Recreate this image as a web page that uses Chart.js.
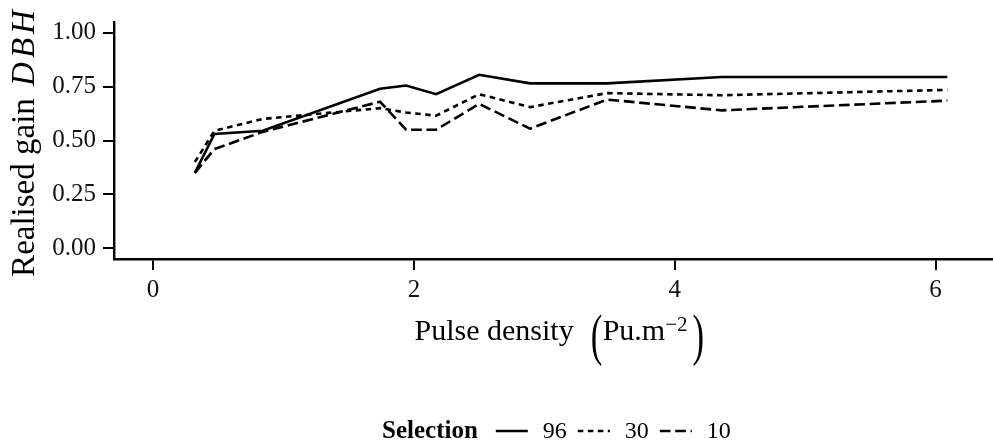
<!DOCTYPE html>
<html>
<head>
<meta charset="utf-8">
<script src="https://cdn.jsdelivr.net/npm/chart.js@4.4.1/dist/chart.umd.min.js"></script>
<style>
    html, body { margin: 0; padding: 0; background: #fff; }
    #wrap { width: 993px; height: 446px; }
</style>
</head>
<body>
<div id="wrap"><canvas id="gainChart" width="993" height="446"></canvas></div>
<script>
// Values
const pulseDensity = [0.32, 0.47, 0.84, 1.74, 1.94, 2.17, 2.5, 2.89, 3.48, 4.36, 6.09];
const gain96 = [0.35, 0.53, 0.545, 0.74, 0.755, 0.715, 0.805, 0.765, 0.765, 0.795, 0.795];
const gain30 = [0.40, 0.545, 0.60, 0.65, 0.63, 0.615, 0.715, 0.655, 0.72, 0.71, 0.735];
const gain10 = [0.35, 0.46, 0.54, 0.68, 0.55, 0.55, 0.67, 0.555, 0.69, 0.64, 0.685];

const selectionLabels = ['96', '30', '10'];
const xTicks = [0, 2, 4, 6];
const yTicks = [0, 0.25, 0.5, 0.75, 1];

const SERIF = '"Liberation Serif", "Times New Roman", serif';
const dashes = [[], [5.5, 4.5], [10.7, 4.7]];

function toPoints(values) {
    return values.map((v, i) => ({ x: pulseDensity[i], y: v }));
}

function makeDataset(label, values, dash) {
    return {
        label: label,
        data: toPoints(values),
        borderColor: '#000',
        borderWidth: 2.6,
        borderDash: dash,
        borderCapStyle: 'butt',
        pointRadius: 0,
        tension: 0,
        fill: false
    };
}

// axis titles and the bottom legend are drawn by hand
const annotations = {
    id: 'annotations',
    afterDraw(chart) {
        const ctx = chart.ctx;
        const area = chart.chartArea;
        ctx.save();
        ctx.fillStyle = '#000';
        ctx.textBaseline = 'alphabetic';

        // x title: Pulse density (Pu.m^-2)
        ctx.font = '30px ' + SERIF;
        const wMain = ctx.measureText('Pulse density').width;
        const wUnit = ctx.measureText('Pu.m').width;
        ctx.font = '21px ' + SERIF;
        const wSup = ctx.measureText('\u22122').width;
        const total = wMain + 17 + 12 + wUnit + wSup + 5 + 8;
        let x = (area.left + area.right) / 2 + 4 - total / 2;
        const base = 340;
        ctx.font = '30px ' + SERIF;
        ctx.fillText('Pulse density', x, base);
        x += wMain + 17;
        ctx.save();
        ctx.translate(x, base + 14);
        ctx.scale(0.62, 1);
        ctx.font = '56px ' + SERIF;
        ctx.fillText('(', 0, 0);
        ctx.restore();
        x += 12;
        ctx.font = '30px ' + SERIF;
        ctx.fillText('Pu.m', x, base);
        x += wUnit;
        ctx.font = '21px ' + SERIF;
        ctx.fillText('\u22122', x, base - 9);
        x += wSup + 5;
        ctx.save();
        ctx.translate(x, base + 14);
        ctx.scale(0.62, 1);
        ctx.font = '56px ' + SERIF;
        ctx.fillText(')', 0, 0);
        ctx.restore();

        // y title: Realised gain DBH
        ctx.save();
        ctx.translate(34, (area.top + area.bottom) / 2 + 3);
        ctx.rotate(-Math.PI / 2);
        ctx.font = '33px ' + SERIF;
        const plain = 'Realised gain ';
        const wPlain = ctx.measureText(plain).width;
        ctx.font = 'italic 33px ' + SERIF;
        const letters = ['D', 'B', 'H'];
        const gap = 4;
        const wItal = letters.reduce((s, l) => s + ctx.measureText(l).width + gap, 0);
        let ty = -(wPlain + wItal) / 2;
        ctx.font = '33px ' + SERIF;
        ctx.fillText(plain, ty, 0);
        ty += wPlain + 4;
        ctx.font = 'italic 33px ' + SERIF;
        letters.forEach(l => {
            ctx.fillText(l, ty, 0);
            ty += ctx.measureText(l).width + gap;
        });
        ctx.restore();

        // legend
        const ly = 431;
        let lx = 382;
        ctx.font = 'bold 25px ' + SERIF;
        ctx.fillText('Selection', lx, 438);
        lx += ctx.measureText('Selection').width + 18;
        ctx.font = '24px ' + SERIF;
        chart.data.datasets.forEach(ds => {
            ctx.beginPath();
            ctx.setLineDash(ds.borderDash);
            ctx.lineWidth = ds.borderWidth;
            ctx.strokeStyle = '#000';
            ctx.moveTo(lx, ly);
            ctx.lineTo(lx + 32, ly);
            ctx.stroke();
            ctx.setLineDash([]);
            lx += 32 + 15;
            ctx.fillText(ds.label, lx, 438);
            lx += ctx.measureText(ds.label).width + 11;
        });
        ctx.restore();
    }
};

function createGainChart(canvasId) {
    const ctx = document.getElementById(canvasId).getContext('2d');
    return new Chart(ctx, {
        type: 'line',
        data: {
            datasets: [
                makeDataset(selectionLabels[0], gain96, dashes[0]),
                makeDataset(selectionLabels[1], gain30, dashes[1]),
                makeDataset(selectionLabels[2], gain10, dashes[2])
            ]
        },
        options: {
            responsive: false,
            animation: false,
            layout: { padding: { top: 18, left: 0, right: 0, bottom: 0 } },
            plugins: {
                legend: { display: false },
                tooltip: { enabled: false }
            },
            scales: {
                x: {
                    type: 'linear',
                    min: -0.3,
                    max: 6.44,
                    afterBuildTicks: s => { s.ticks = xTicks.map(v => ({ value: v })); },
                    afterFit: s => { s.height = 187; },
                    grid: { drawOnChartArea: false, drawTicks: true, tickLength: 11, color: '#000', lineWidth: 2 },
                    border: { display: true, color: '#000', width: 2.4 },
                    ticks: {
                        color: '#111',
                        padding: 5,
                        maxRotation: 0,
                        font: { family: SERIF, size: 25 },
                        callback: v => String(v)
                    }
                },
                y: {
                    min: -0.05,
                    max: 1.05,
                    afterBuildTicks: s => { s.ticks = yTicks.map(v => ({ value: v })); },
                    afterFit: s => { s.width = 114; },
                    grid: { drawOnChartArea: false, drawTicks: true, tickLength: 11, color: '#000', lineWidth: 2 },
                    border: { display: true, color: '#000', width: 2.4 },
                    ticks: {
                        color: '#111',
                        padding: 7,
                        font: { family: SERIF, size: 25 },
                        callback: v => v.toFixed(2)
                    }
                }
            }
        },
        plugins: [annotations]
    });
}

createGainChart('gainChart');
</script>
</body>
</html>
